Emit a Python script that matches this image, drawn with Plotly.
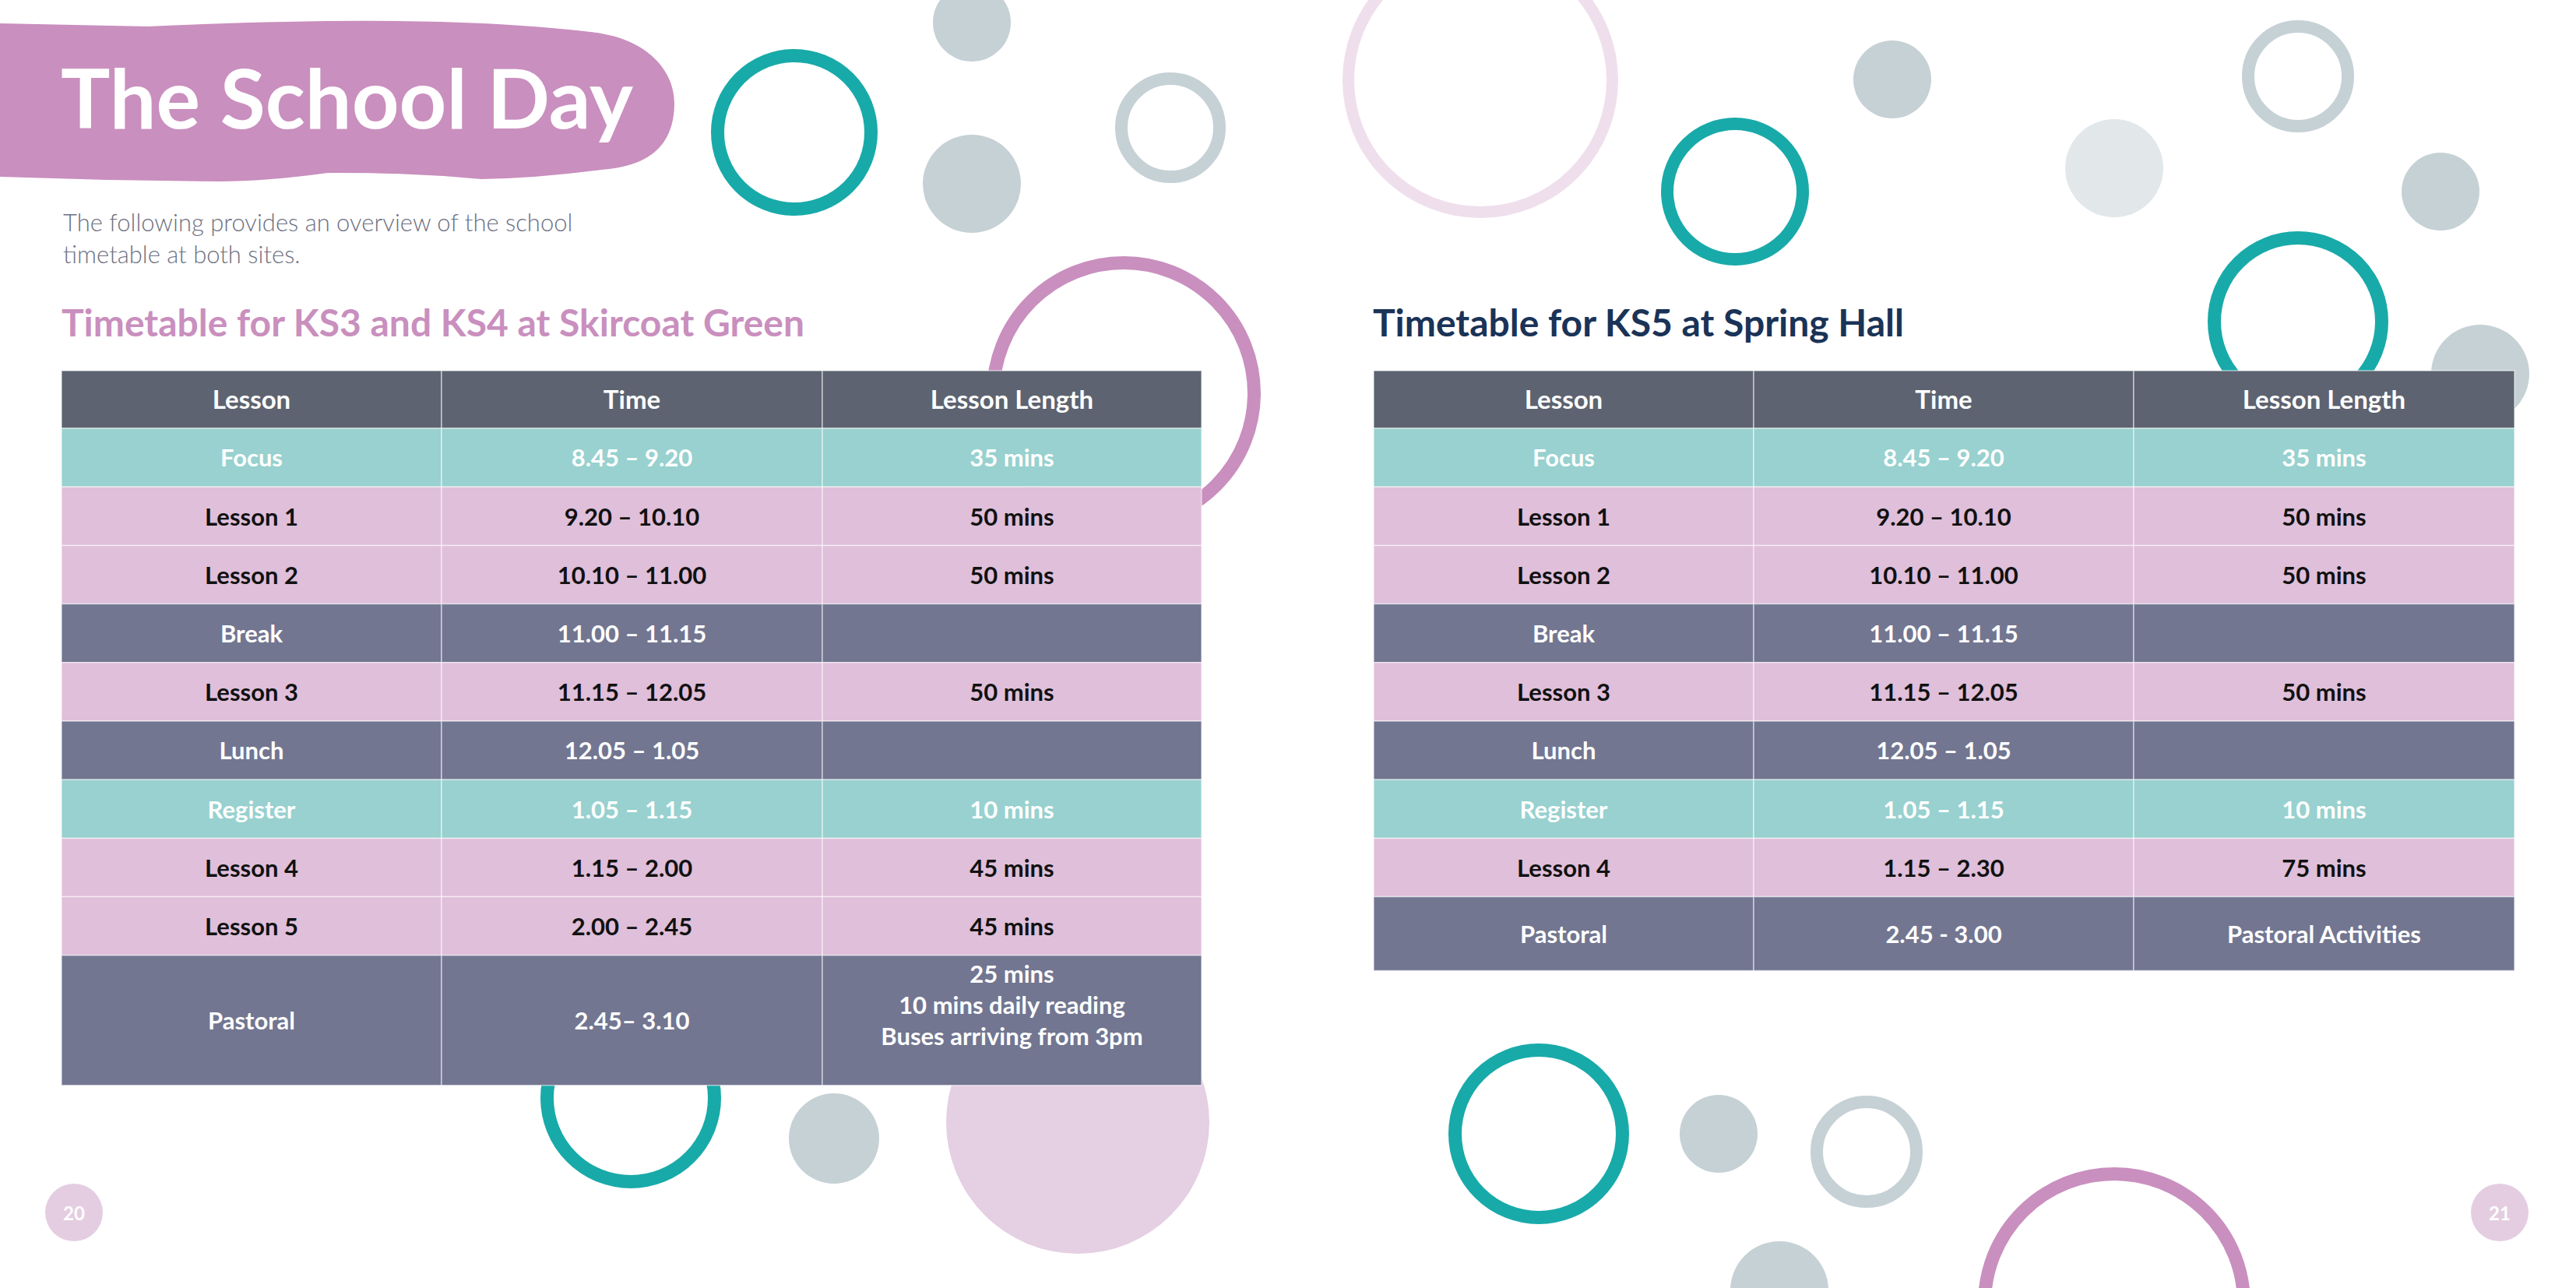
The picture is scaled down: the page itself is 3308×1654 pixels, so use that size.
import plotly.graph_objects as go

# ---- data -------------------------------------------------------------
HEADERS = ["Lesson", "Time", "Lesson Length"]

KS34_LESSON = ["Focus", "Lesson 1", "Lesson 2", "Break", "Lesson 3", "Lunch",
               "Register", "Lesson 4", "Lesson 5", "Pastoral"]
KS34_TIME = ["8.45 – 9.20", "9.20 – 10.10", "10.10 – 11.00", "11.00 – 11.15",
             "11.15 – 12.05", "12.05 – 1.05", "1.05 – 1.15", "1.15 – 2.00",
             "2.00 – 2.45", "2.45– 3.10"]
KS34_LENGTH = ["35 mins", "50 mins", "50 mins", "", "50 mins", "", "10 mins",
               "45 mins", "45 mins",
               "25 mins<br>10 mins daily reading<br>Buses arriving from 3pm"]
KS34_KIND = ["focus", "lesson", "lesson", "break", "lesson", "break", "focus",
             "lesson", "lesson", "break"]

KS5_LESSON = ["Focus", "Lesson 1", "Lesson 2", "Break", "Lesson 3", "Lunch",
              "Register", "Lesson 4", "Pastoral"]
KS5_TIME = ["8.45 – 9.20", "9.20 – 10.10", "10.10 – 11.00", "11.00 – 11.15",
            "11.15 – 12.05", "12.05 – 1.05", "1.05 – 1.15", "1.15 – 2.30",
            "2.45 - 3.00"]
KS5_LENGTH = ["35 mins", "50 mins", "50 mins", "", "50 mins", "", "10 mins",
              "75 mins", "Pastoral Activities"]
KS5_KIND = ["focus", "lesson", "lesson", "break", "lesson", "break", "focus",
            "lesson", "break"]

# ---- style ------------------------------------------------------------
W, H = 3308, 1654
FONT = "Lato"
TEAL = "#18aaa9"
GREY = "#c5d1d5"
PALE_GREY = "#e2e7ea"
PINK = "#c98fbe"
PALE_PINK = "#e5cfe2"
NAVY = "#1a3357"
FILL = {"head": "#5d6370", "focus": "#98d1cf", "lesson": "#dfbfda", "break": "#727691"}
INK = {"head": "white", "focus": "white", "lesson": "#111111", "break": "white"}

TOP, HEAD_H, ROW_H = 476, 74, 75.2
TEXT_DY = 4          # optical nudge of cell text
MULTI_DY = -20       # multi-line cells sit above the row centre

# decorative circles: (cx, cy, r_outer, colour, ring thickness or None = filled)
BUBBLES = [
    (1020, 170, 107, TEAL, 17), (1248, 29, 50, GREY, None), (1248, 236, 63, GREY, None),
    (1503, 164, 71, GREY, 16), (1901, 103, 177, "#efdfec", 15), (1443, 505, 176, PINK, 17),
    (2228, 246, 95, TEAL, 16), (2430, 102, 50, GREY, None), (2715, 216, 63, PALE_GREY, None),
    (2951, 98, 72, GREY, 16), (3134, 246, 50, GREY, None), (2951, 413, 116, TEAL, 17),
    (3185, 480, 63, GREY, None),
    (810, 1410, 116, TEAL, 17), (1071, 1462, 58, GREY, None), (1384, 1441, 169, PALE_PINK, None),
    (1976, 1456, 116, TEAL, 17), (2207, 1456, 50, GREY, None), (2397, 1479, 72, GREY, 16),
    (2715, 1674, 175, PINK, 17), (2285, 1657, 63, GREY, None),
]

fig = go.Figure()
shapes = []

for cx, cy, r, col, t in BUBBLES:
    if t is None:
        shapes.append(dict(type="circle", x0=cx - r, x1=cx + r, y0=cy - r, y1=cy + r,
                           fillcolor=col, line=dict(width=0), layer="below"))
    else:
        rr = r - t / 2
        shapes.append(dict(type="circle", x0=cx - rr, x1=cx + rr, y0=cy - rr, y1=cy + rr,
                           line=dict(color=col, width=t), layer="below"))

# title blob
shapes.append(dict(
    type="path",
    path=("M 0,30 L 190,34 Q 450,22 620,30 Q 700,34 758,41 C 830,48 866,90 866,132 "
          "C 866,190 830,214 772,218 Q 690,229 618,230 Q 520,221 421,222 "
          "Q 340,233 281,233 Q 140,232 0,227 Z"),
    fillcolor=PINK, line=dict(width=0), layer="below"))


def add_table(x_edges, lessons, times, lengths, kinds, last_h):
    heights = [HEAD_H] + [ROW_H] * (len(lessons) - 1) + [last_h]
    rows = [HEADERS] + [list(r) for r in zip(lessons, times, lengths)]
    kind_list = ["head"] + list(kinds)
    y = TOP
    cols_x = [[], [], []]
    cols_y = [[], [], []]
    cols_t = [[], [], []]
    cols_c = [[], [], []]
    for row, kind, h in zip(rows, kind_list, heights):
        for j in range(3):
            shapes.append(dict(type="rect", x0=x_edges[j], x1=x_edges[j + 1], y0=y, y1=y + h,
                               fillcolor=FILL[kind], layer="below",
                               line=dict(color="rgba(255,255,255,0.55)", width=1.5)))
            dy = TEXT_DY + (MULTI_DY if "<br>" in row[j] else 0)
            cols_x[j].append((x_edges[j] + x_edges[j + 1]) / 2)
            cols_y[j].append(y + h / 2 + dy)
            cols_t[j].append(row[j])
            cols_c[j].append(INK[kind])
        y += h
    for j in range(3):
        fig.add_trace(go.Scatter(
            x=cols_x[j][:1], y=cols_y[j][:1], text=cols_t[j][:1], mode="text",
            textposition="middle center", hoverinfo="skip", showlegend=False,
            textfont=dict(family=FONT, size=33, color="white", weight="bold")))
        fig.add_trace(go.Scatter(
            x=cols_x[j][1:], y=cols_y[j][1:], text=cols_t[j][1:], mode="text",
            textposition="middle center", hoverinfo="skip", showlegend=False,
            textfont=dict(family=FONT, size=31, color=cols_c[j][1:], weight="bold")))


add_table([79, 567, 1056, 1543], KS34_LESSON, KS34_TIME, KS34_LENGTH, KS34_KIND, 167)
add_table([1764, 2252, 2740, 3229], KS5_LESSON, KS5_TIME, KS5_LENGTH, KS5_KIND, 95)

# page number discs
for cx in (95, 3210):
    shapes.append(dict(type="circle", x0=cx - 37, x1=cx + 37, y0=1520, y1=1594,
                       fillcolor="#e4cde1", line=dict(width=0), layer="below"))

annotations = [
    dict(x=76, y=124, text="The School Day", font=dict(family=FONT, size=106, color="white", weight="bold")),
    dict(x=79, y=285, text="The following provides an overview of the school",
         font=dict(family=FONT, size=31, color="#6d7081", weight=300)),
    dict(x=79, y=326, text="timetable at both sites.",
         font=dict(family=FONT, size=31, color="#6d7081", weight=300)),
    dict(x=77, y=413, text="Timetable for KS3 and KS4 at Skircoat Green",
         font=dict(family=FONT, size=48, color=PINK, weight="bold")),
    dict(x=1761, y=413, text="Timetable for KS5 at Spring Hall",
         font=dict(family=FONT, size=48, color=NAVY, weight="bold")),
]
for a in annotations:
    a.update(xref="x", yref="y", xanchor="left", yanchor="middle", showarrow=False)
for cx, num in ((95, "20"), (3210, "21")):
    annotations.append(dict(x=cx, y=1557, text=num, xref="x", yref="y", showarrow=False,
                            font=dict(family=FONT, size=24, color="white", weight="bold")))

fig.update_layout(
    width=W, height=H,
    margin=dict(l=0, r=0, t=0, b=0),
    paper_bgcolor="white", plot_bgcolor="white",
    xaxis=dict(range=[0, W], visible=False, fixedrange=True),
    yaxis=dict(range=[H, 0], visible=False, fixedrange=True),
    shapes=shapes, annotations=annotations,
)

fig.write_html("out.html", config={"displayModeBar": False},
               post_script="document.body.style.margin='0';")
